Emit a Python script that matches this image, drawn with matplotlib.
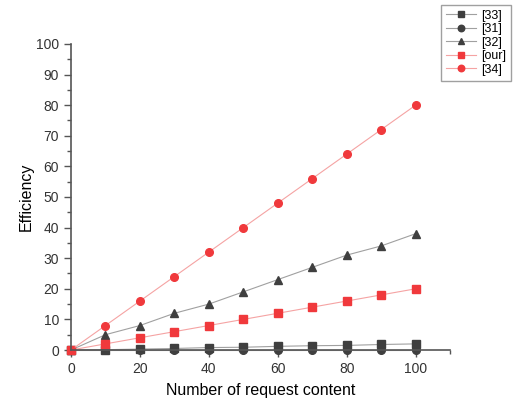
import matplotlib
matplotlib.use('Agg')
import matplotlib.pyplot as plt
from matplotlib.ticker import MultipleLocator

plt.rcParams['font.family'] = ['Liberation Sans', 'DejaVu Sans']

x = [0, 10, 20, 30, 40, 50, 60, 70, 80, 90, 100]
ref33 = [0, 0.1, 0.3, 0.5, 0.8, 0.9, 1.2, 1.4, 1.5, 1.8, 2.0]
ref31 = [0, 0, 0, 0, 0, 0, 0, 0, 0, 0, 0]
ref32 = [0, 5, 8, 12, 15, 19, 23, 27, 31, 34, 38]
ours = [0, 2, 4, 6, 8, 10, 12, 14, 16, 18, 20]
ref34 = [0, 8, 16, 24, 32, 40, 48, 56, 64, 72, 80]

dark = '#3f3f3f'
dark_line = '#a0a0a0'
red = '#f0393c'
red_line = '#f5a3a3'

fig = plt.figure(figsize=(5.24, 4.03), dpi=100)
ax = fig.add_axes([0.1355, 0.1315, 0.7235, 0.7595])

series = [
    (ref33, 's', dark, dark_line, '[33]'),
    (ref31, 'o', dark, dark_line, '[31]'),
    (ref32, '^', dark, dark_line, '[32]'),
    (ours, 's', red, red_line, '[our]'),
    (ref34, 'o', red, red_line, '[34]'),
]
for ys, m, mc, lc, lab in series:
    ax.plot(x, ys, color=lc, lw=0.8, marker=m, ms=5.5, mfc=mc, mec=mc,
            label=lab, clip_on=False)

ax.set_xlim(0, 110)
ax.set_ylim(0, 100)
ax.xaxis.set_major_locator(MultipleLocator(20))
ax.xaxis.set_minor_locator(MultipleLocator(10))
ax.yaxis.set_major_locator(MultipleLocator(10))
ax.yaxis.set_minor_locator(MultipleLocator(5))
for s in ['top', 'right']:
    ax.spines[s].set_visible(False)
for s in ['left', 'bottom']:
    ax.spines[s].set_color('#555555')
    ax.spines[s].set_linewidth(1.2)
ax.tick_params(which='major', length=5, width=1, color='#555555',
               labelsize=10, labelcolor='#333333')
ax.tick_params(which='minor', length=3, width=1, color='#555555')
ax.set_xlabel('Number of request content', fontsize=11.5, labelpad=5)
ax.set_ylabel('Efficiency', fontsize=11.5, labelpad=2)

fig.legend(loc='upper left', bbox_to_anchor=(0.842, 0.988), fontsize=9,
           frameon=True, fancybox=False, edgecolor='#888888',
           handlelength=2.4, handletextpad=0.4, borderpad=0.4,
           labelspacing=0.12, markerscale=0.85, borderaxespad=0)

fig.savefig('out.png', dpi=100)
